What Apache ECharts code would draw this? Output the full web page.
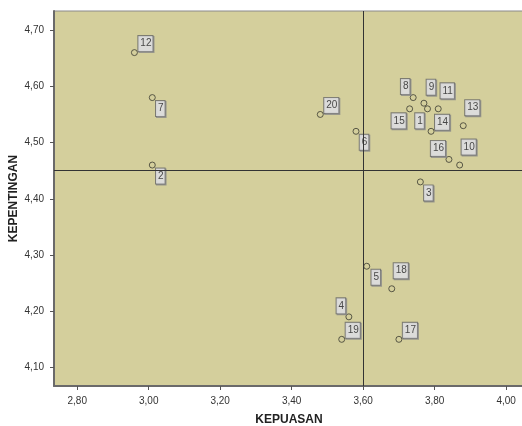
<!DOCTYPE html>
<html><head><meta charset="utf-8">
<script src="https://cdn.jsdelivr.net/npm/echarts@6/dist/echarts.min.js"></script>
<style>html,body{margin:0;padding:0;background:#fff}#c{width:522px;height:426px}</style>
</head><body><div id="c"></div>
<script>
// data
const ids = ['1','2','3','4','5','6','7','8','9','10','11','12','13','14','15','16','17','18','19','20'];
const kepuasan = [3.78,3.01,3.76,3.56,3.61,3.58,3.01,3.74,3.77,3.87,3.81,2.96,3.88,3.79,3.73,3.84,3.70,3.68,3.54,3.48];
const kepentingan = [4.56,4.46,4.43,4.19,4.28,4.52,4.58,4.58,4.57,4.46,4.56,4.66,4.53,4.52,4.56,4.47,4.15,4.24,4.15,4.55];
const xTicks = [2.8,3.0,3.2,3.4,3.6,3.8,4.0];
const yTicks = [4.1,4.2,4.3,4.4,4.5,4.6,4.7];
const refX = 3.60;
const refY = 4.45;
// label placement (pixel offsets of each id box from its point)
const labelOffsets = [[-8,12],[8,11],[8,11],[-8,-11],[9,11],[8,11],[8,11],[-8,-11],[7,-16],[9,-18],[9,-18],[11,-9],[9,-18],[11,-9],[-11,12],[-11,-11],[11,-9],[9,-18],[11,-9],[11,-9]];

const FONT = "'Liberation Sans', Arial, sans-serif";
const fmt = v => v.toFixed(2).replace('.', ',');

const data = ids.map((id, i) => ({
  name: id,
  value: [kepuasan[i], kepentingan[i]],
  label: { offset: labelOffsets[i] }
}));

const chart = echarts.init(document.getElementById('c'), null, {renderer: 'canvas'});
chart.setOption({
  animation: false,
  backgroundColor: '#fff',
  grid: {
    left: 54, top: 11, right: -2, bottom: 40,
    containLabel: false, outerBoundsMode: 'none',
    show: true, backgroundColor: '#d4cf9c', borderColor: '#8a8a8a', borderWidth: 1
  },
  xAxis: {
    type: 'value', min: 2.735, max: 4.05,
    name: 'KEPUASAN', nameLocation: 'middle', nameGap: 28, nameMoveOverlap: false,
    nameTextStyle: {fontFamily: FONT, fontWeight: 'bold', fontSize: 12, color: '#222'},
    axisLine: {show: true, onZero: false, lineStyle: {color: '#6a6a6a', width: 2}},
    axisTick: {show: true, length: 4, customValues: xTicks, lineStyle: {color: '#555'}},
    axisLabel: {customValues: xTicks, formatter: fmt, margin: 10, fontFamily: FONT, fontSize: 10, color: '#333'},
    splitLine: {show: false}
  },
  yAxis: {
    type: 'value', min: 4.067, max: 4.734,
    name: 'KEPENTINGAN', nameLocation: 'middle', nameGap: 34, nameMoveOverlap: false,
    nameTextStyle: {fontFamily: FONT, fontWeight: 'bold', fontSize: 12, color: '#222'},
    axisLine: {show: true, onZero: false, lineStyle: {color: '#6a6a6a', width: 2}},
    axisTick: {show: true, length: 4, customValues: yTicks, lineStyle: {color: '#555'}},
    axisLabel: {customValues: yTicks, formatter: fmt, margin: 10, fontFamily: FONT, fontSize: 10, color: '#333'},
    splitLine: {show: false}
  },
  series: [{
    type: 'scatter',
    symbol: 'circle',
    symbolSize: 6,
    itemStyle: {color: 'rgba(0,0,0,0)', borderColor: '#3a3a30', borderWidth: 1},
    label: {
      show: true, position: 'inside', formatter: p => p.name,
      fontFamily: FONT, fontSize: 10, color: '#222', lineHeight: 12,
      backgroundColor: '#ededed', borderColor: '#666', borderWidth: 1,
      padding: [2, 1, 1, 2],
      shadowColor: '#888', shadowOffsetX: 1, shadowOffsetY: 1, shadowBlur: 0
    },
    data: data,
    markLine: {
      silent: true, symbol: 'none', animation: false,
      label: {show: false},
      lineStyle: {color: '#333', width: 1, type: 'solid'},
      data: [{xAxis: refX}, {yAxis: refY}]
    },
    z: 3
  }]
});
</script></body></html>
